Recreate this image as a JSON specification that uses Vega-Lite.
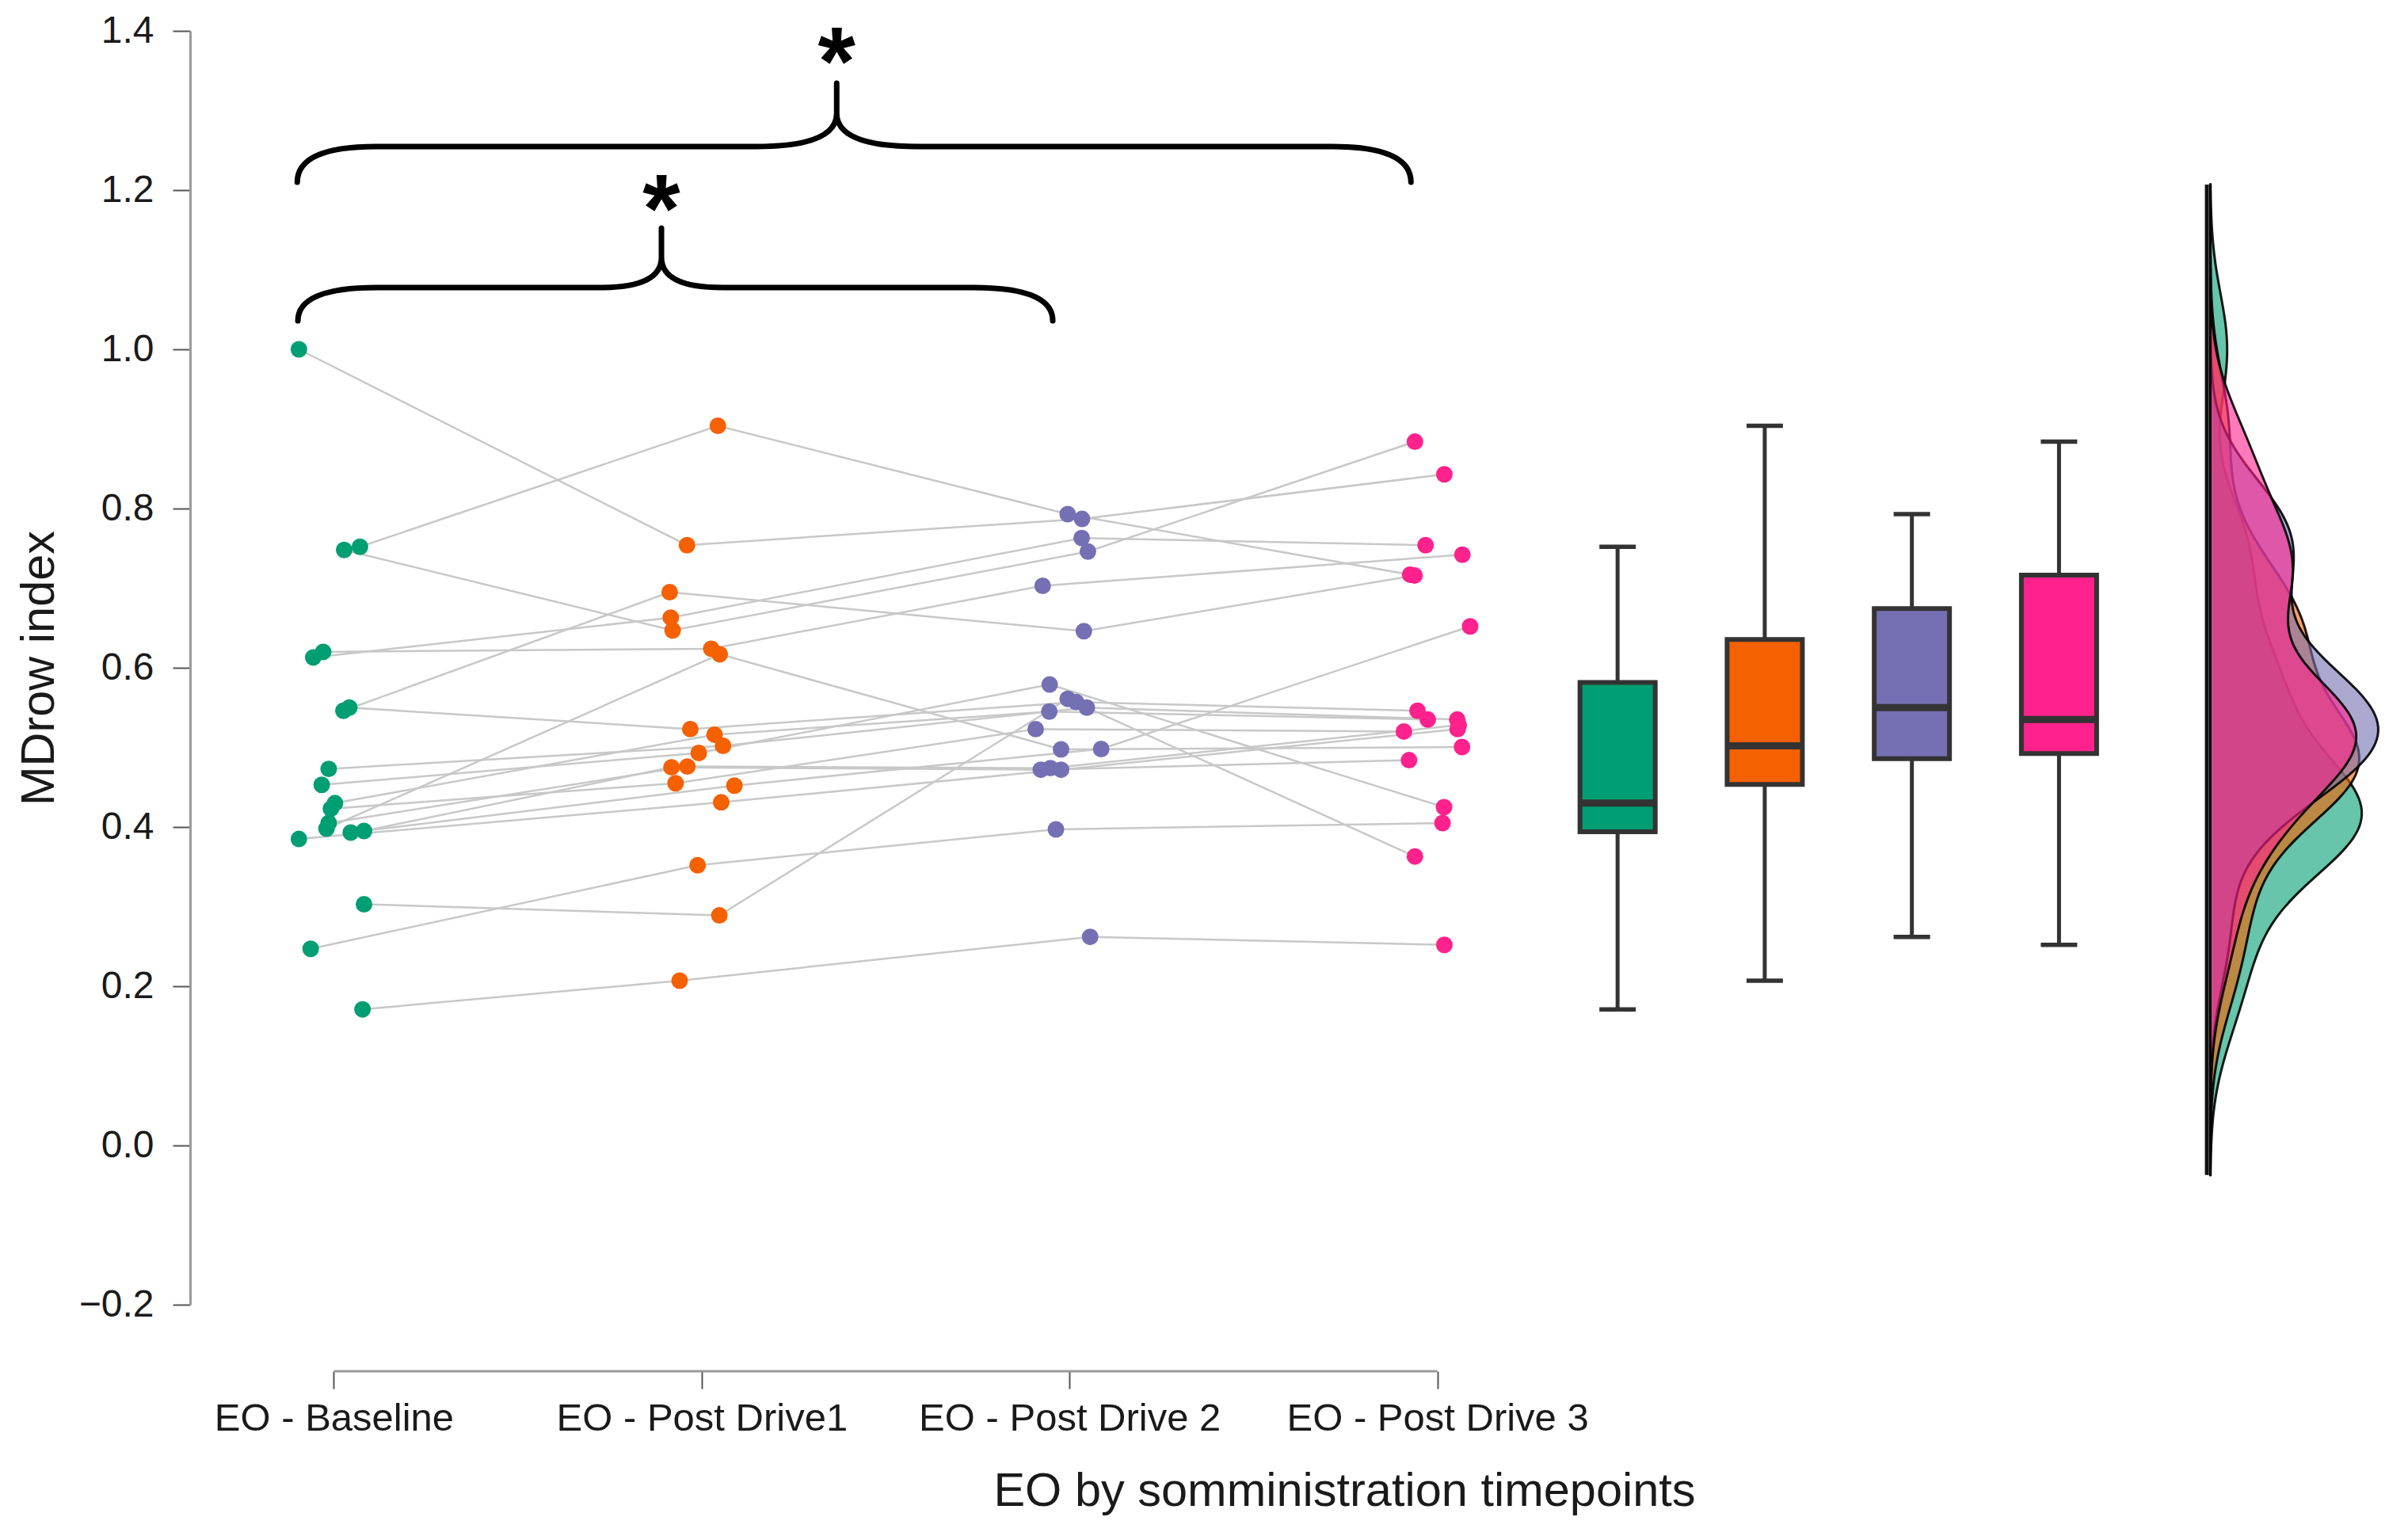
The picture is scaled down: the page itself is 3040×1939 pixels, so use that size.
{
  "$schema": "https://vega.github.io/schema/vega-lite/v6.json",
  "width": 2787,
  "height": 1608,
  "autosize": {"type": "none"},
  "padding": {"left": 240, "top": 39, "right": 13, "bottom": 292},
  "background": "white",
  "config": {
    "font": "Liberation Sans",
    "view": {"stroke": null},
    "axis": {"grid": false, "labelColor": "#1a1a1a", "titleColor": "#1a1a1a", "titleFontWeight": "normal", "labelLimit": 0},
    "axisX": {
      "offset": 84, "domain": false,
      "tickSize": 22, "tickWidth": 2, "tickColor": "#555555",
      "labelFontSize": 49, "labelPadding": 13, "labelFlush": false, "labelOverlap": false,
      "titleFontSize": 59.5, "titlePadding": 38,
      "titleX": 1457, "titleAlign": "center", "titleAnchor": "start"
    },
    "axisY": {
      "titleFontSize": 59.5, "titlePadding": 20,
      "labelFontSize": 48, "labelPadding": 24,
      "tickSize": 22, "tickWidth": 2, "tickColor": "#555555",
      "domainColor": "#9a9a9a", "domainWidth": 3
    }
  },
  "datasets": {
    "subjects": [
      {"subject": 1, "timepoint": "EO - Baseline", "value": 1.0, "pos": 0.905},
      {"subject": 1, "timepoint": "EO - Post Drive1", "value": 0.754, "pos": 1.96},
      {"subject": 1, "timepoint": "EO - Post Drive 2", "value": 0.787, "pos": 3.034},
      {"subject": 1, "timepoint": "EO - Post Drive 3", "value": 0.843, "pos": 4.019},
      {"subject": 2, "timepoint": "EO - Baseline", "value": 0.752, "pos": 1.071},
      {"subject": 2, "timepoint": "EO - Post Drive1", "value": 0.904, "pos": 2.044},
      {"subject": 2, "timepoint": "EO - Post Drive 2", "value": 0.793, "pos": 2.995},
      {"subject": 2, "timepoint": "EO - Post Drive 3", "value": 0.717, "pos": 3.926},
      {"subject": 3, "timepoint": "EO - Baseline", "value": 0.748, "pos": 1.028},
      {"subject": 3, "timepoint": "EO - Post Drive1", "value": 0.647, "pos": 1.921},
      {"subject": 3, "timepoint": "EO - Post Drive 2", "value": 0.746, "pos": 3.05},
      {"subject": 3, "timepoint": "EO - Post Drive 3", "value": 0.884, "pos": 3.939},
      {"subject": 4, "timepoint": "EO - Baseline", "value": 0.62, "pos": 0.971},
      {"subject": 4, "timepoint": "EO - Post Drive1", "value": 0.624, "pos": 2.026},
      {"subject": 4, "timepoint": "EO - Post Drive 2", "value": 0.703, "pos": 2.927},
      {"subject": 4, "timepoint": "EO - Post Drive 3", "value": 0.742, "pos": 4.068},
      {"subject": 5, "timepoint": "EO - Baseline", "value": 0.613, "pos": 0.944},
      {"subject": 5, "timepoint": "EO - Post Drive1", "value": 0.663, "pos": 1.916},
      {"subject": 5, "timepoint": "EO - Post Drive 2", "value": 0.763, "pos": 3.033},
      {"subject": 5, "timepoint": "EO - Post Drive 3", "value": 0.754, "pos": 3.968},
      {"subject": 6, "timepoint": "EO - Baseline", "value": 0.546, "pos": 1.026},
      {"subject": 6, "timepoint": "EO - Post Drive1", "value": 0.695, "pos": 1.913},
      {"subject": 6, "timepoint": "EO - Post Drive 2", "value": 0.646, "pos": 3.039},
      {"subject": 6, "timepoint": "EO - Post Drive 3", "value": 0.716, "pos": 3.938},
      {"subject": 7, "timepoint": "EO - Baseline", "value": 0.55, "pos": 1.042},
      {"subject": 7, "timepoint": "EO - Post Drive1", "value": 0.523, "pos": 1.969},
      {"subject": 7, "timepoint": "EO - Post Drive 2", "value": 0.557, "pos": 3.018},
      {"subject": 7, "timepoint": "EO - Post Drive 3", "value": 0.546, "pos": 3.946},
      {"subject": 8, "timepoint": "EO - Baseline", "value": 0.398, "pos": 0.98},
      {"subject": 8, "timepoint": "EO - Post Drive1", "value": 0.617, "pos": 2.049},
      {"subject": 8, "timepoint": "EO - Post Drive 2", "value": 0.4975, "pos": 2.977},
      {"subject": 8, "timepoint": "EO - Post Drive 3", "value": 0.5005, "pos": 4.067},
      {"subject": 9, "timepoint": "EO - Baseline", "value": 0.303, "pos": 1.082},
      {"subject": 9, "timepoint": "EO - Post Drive1", "value": 0.289, "pos": 2.048},
      {"subject": 9, "timepoint": "EO - Post Drive 2", "value": 0.561, "pos": 2.995},
      {"subject": 9, "timepoint": "EO - Post Drive 3", "value": 0.363, "pos": 3.939},
      {"subject": 10, "timepoint": "EO - Baseline", "value": 0.247, "pos": 0.937},
      {"subject": 10, "timepoint": "EO - Post Drive1", "value": 0.352, "pos": 1.989},
      {"subject": 10, "timepoint": "EO - Post Drive 2", "value": 0.397, "pos": 2.963},
      {"subject": 10, "timepoint": "EO - Post Drive 3", "value": 0.405, "pos": 4.014},
      {"subject": 11, "timepoint": "EO - Baseline", "value": 0.171, "pos": 1.078},
      {"subject": 11, "timepoint": "EO - Post Drive1", "value": 0.207, "pos": 1.94},
      {"subject": 11, "timepoint": "EO - Post Drive 2", "value": 0.262, "pos": 3.056},
      {"subject": 11, "timepoint": "EO - Post Drive 3", "value": 0.252, "pos": 4.019},
      {"subject": 12, "timepoint": "EO - Baseline", "value": 0.473, "pos": 0.986},
      {"subject": 12, "timepoint": "EO - Post Drive1", "value": 0.502, "pos": 2.058},
      {"subject": 12, "timepoint": "EO - Post Drive 2", "value": 0.55, "pos": 3.047},
      {"subject": 12, "timepoint": "EO - Post Drive 3", "value": 0.535, "pos": 4.054},
      {"subject": 13, "timepoint": "EO - Baseline", "value": 0.453, "pos": 0.967},
      {"subject": 13, "timepoint": "EO - Post Drive1", "value": 0.493, "pos": 1.992},
      {"subject": 13, "timepoint": "EO - Post Drive 2", "value": 0.579, "pos": 2.946},
      {"subject": 13, "timepoint": "EO - Post Drive 3", "value": 0.425, "pos": 4.018},
      {"subject": 14, "timepoint": "EO - Baseline", "value": 0.43, "pos": 1.003},
      {"subject": 14, "timepoint": "EO - Post Drive1", "value": 0.516, "pos": 2.035},
      {"subject": 14, "timepoint": "EO - Post Drive 2", "value": 0.545, "pos": 2.945},
      {"subject": 14, "timepoint": "EO - Post Drive 3", "value": 0.535, "pos": 3.974},
      {"subject": 15, "timepoint": "EO - Baseline", "value": 0.423, "pos": 0.992},
      {"subject": 15, "timepoint": "EO - Post Drive1", "value": 0.455, "pos": 1.929},
      {"subject": 15, "timepoint": "EO - Post Drive 2", "value": 0.523, "pos": 2.908},
      {"subject": 15, "timepoint": "EO - Post Drive 3", "value": 0.52, "pos": 3.909},
      {"subject": 16, "timepoint": "EO - Baseline", "value": 0.405, "pos": 0.986},
      {"subject": 16, "timepoint": "EO - Post Drive1", "value": 0.476, "pos": 1.961},
      {"subject": 16, "timepoint": "EO - Post Drive 2", "value": 0.474, "pos": 2.948},
      {"subject": 16, "timepoint": "EO - Post Drive 3", "value": 0.528, "pos": 4.058},
      {"subject": 17, "timepoint": "EO - Baseline", "value": 0.395, "pos": 1.082},
      {"subject": 17, "timepoint": "EO - Post Drive1", "value": 0.475, "pos": 1.918},
      {"subject": 17, "timepoint": "EO - Post Drive 2", "value": 0.472, "pos": 2.922},
      {"subject": 17, "timepoint": "EO - Post Drive 3", "value": 0.484, "pos": 3.923},
      {"subject": 18, "timepoint": "EO - Baseline", "value": 0.393, "pos": 1.046},
      {"subject": 18, "timepoint": "EO - Post Drive1", "value": 0.452, "pos": 2.089},
      {"subject": 18, "timepoint": "EO - Post Drive 2", "value": 0.498, "pos": 3.086},
      {"subject": 18, "timepoint": "EO - Post Drive 3", "value": 0.652, "pos": 4.089},
      {"subject": 19, "timepoint": "EO - Baseline", "value": 0.385, "pos": 0.905},
      {"subject": 19, "timepoint": "EO - Post Drive1", "value": 0.431, "pos": 2.053},
      {"subject": 19, "timepoint": "EO - Post Drive 2", "value": 0.472, "pos": 2.977},
      {"subject": 19, "timepoint": "EO - Post Drive 3", "value": 0.523, "pos": 4.055}
    ],
    "slots": [
      {"timepoint": "EO - Baseline", "boxAt": 4.49},
      {"timepoint": "EO - Post Drive1", "boxAt": 4.89},
      {"timepoint": "EO - Post Drive 2", "boxAt": 5.29},
      {"timepoint": "EO - Post Drive 3", "boxAt": 5.69}
    ]
  },
  "layer": [
    {
      "layer": [
        {
          "data": {"name": "subjects"},
          "mark": {"type": "line", "color": "#c8c8c8", "strokeWidth": 2.5},
          "encoding": {
            "x": {
              "field": "pos", "type": "quantitative", "title": "EO by somministration timepoints",
              "scale": {"domain": [0.62, 6.6], "nice": false, "zero": false},
              "axis": {
                "values": [1, 2, 3, 4],
                "labelExpr": "datum.value == 1 ? 'EO - Baseline' : datum.value == 2 ? 'EO - Post Drive1' : datum.value == 3 ? 'EO - Post Drive 2' : 'EO - Post Drive 3'"
              }
            },
            "y": {
              "field": "value", "type": "quantitative", "title": "MDrow index",
              "scale": {"domain": [-0.2, 1.4], "nice": false, "zero": false},
              "axis": {"values": [-0.2, 0, 0.2, 0.4, 0.6, 0.8, 1.0, 1.2, 1.4], "format": ".1f"}
            },
            "detail": {"field": "subject"},
            "order": {"field": "pos"}
          }
        },
        {
          "data": {"name": "subjects"},
          "mark": {"type": "circle", "size": 440, "opacity": 1},
          "encoding": {
            "x": {"field": "pos", "type": "quantitative", "title": "EO by somministration timepoints", "scale": {"domain": [0.62, 6.6], "nice": false, "zero": false}},
            "y": {"field": "value", "type": "quantitative", "title": "MDrow index", "scale": {"domain": [-0.2, 1.4], "nice": false, "zero": false}},
            "color": {
              "field": "timepoint", "type": "nominal",
              "scale": {"domain": ["EO - Baseline", "EO - Post Drive1", "EO - Post Drive 2", "EO - Post Drive 3"], "range": ["#009e73", "#f56000", "#7570b3", "#ff218c"]},
              "legend": null
            }
          }
        },
        {
          "data": {"name": "subjects"},
          "transform": [
            {
              "joinaggregate": [
                {"op": "q1", "field": "value", "as": "q1"},
                {"op": "q3", "field": "value", "as": "q3"},
                {"op": "median", "field": "value", "as": "med"}
              ],
              "groupby": ["timepoint"]
            },
            {"filter": "datum.value <= datum.q3 + 1.5 * (datum.q3 - datum.q1) && datum.value >= datum.q1 - 1.5 * (datum.q3 - datum.q1)"},
            {
              "aggregate": [
                {"op": "min", "field": "value", "as": "lo"},
                {"op": "max", "field": "value", "as": "hi"}
              ],
              "groupby": ["timepoint", "q1", "q3", "med"]
            },
            {"lookup": "timepoint", "from": {"data": {"name": "slots"}, "key": "timepoint", "fields": ["boxAt"]}}
          ],
          "encoding": {
            "x": {"field": "boxAt", "type": "quantitative", "title": "EO by somministration timepoints", "scale": {"domain": [0.62, 6.6], "nice": false, "zero": false}}
          },
          "layer": [
            {
              "mark": {"type": "rule", "color": "#333333", "strokeWidth": 5},
              "encoding": {
                "y": {"field": "lo", "type": "quantitative", "title": "MDrow index", "scale": {"domain": [-0.2, 1.4], "nice": false, "zero": false}},
                "y2": {"field": "hi"}
              }
            },
            {
              "mark": {"type": "bar", "size": 95, "stroke": "#333333", "strokeWidth": 6, "opacity": 1},
              "encoding": {
                "y": {"field": "q1", "type": "quantitative", "title": "MDrow index", "scale": {"domain": [-0.2, 1.4], "nice": false, "zero": false}},
                "y2": {"field": "q3"},
                "color": {"field": "timepoint", "type": "nominal", "legend": null}
              }
            },
            {
              "mark": {"type": "tick", "orient": "horizontal", "size": 95, "thickness": 9, "color": "#333333", "opacity": 1},
              "encoding": {
                "y": {"field": "med", "type": "quantitative", "title": "MDrow index", "scale": {"domain": [-0.2, 1.4], "nice": false, "zero": false}}
              }
            },
            {
              "mark": {"type": "tick", "orient": "horizontal", "size": 46, "thickness": 5.5, "color": "#333333", "opacity": 1},
              "encoding": {
                "y": {"field": "lo", "type": "quantitative", "title": "MDrow index", "scale": {"domain": [-0.2, 1.4], "nice": false, "zero": false}}
              }
            },
            {
              "mark": {"type": "tick", "orient": "horizontal", "size": 46, "thickness": 5.5, "color": "#333333", "opacity": 1},
              "encoding": {
                "y": {"field": "hi", "type": "quantitative", "title": "MDrow index", "scale": {"domain": [-0.2, 1.4], "nice": false, "zero": false}}
              }
            }
          ]
        },
        {
          "data": {"values": [{}]},
          "mark": {"type": "rule", "color": "#9a9a9a", "strokeWidth": 3},
          "encoding": {
            "x": {"datum": 1, "type": "quantitative", "title": "EO by somministration timepoints", "scale": {"domain": [0.62, 6.6], "nice": false, "zero": false}},
            "x2": {"datum": 4},
            "y": {"datum": -0.2836, "type": "quantitative", "title": "MDrow index", "scale": {"domain": [-0.2, 1.4], "nice": false, "zero": false}}
          }
        },
        {
          "data": {"values": [{}]},
          "mark": {"type": "rule", "color": "#111111", "strokeWidth": 5},
          "encoding": {
            "x": {"datum": 6.092, "type": "quantitative", "title": "EO by somministration timepoints", "scale": {"domain": [0.62, 6.6], "nice": false, "zero": false}},
            "y": {"datum": -0.037, "type": "quantitative", "title": "MDrow index", "scale": {"domain": [-0.2, 1.4], "nice": false, "zero": false}},
            "y2": {"datum": 1.207}
          }
        },
        {
          "data": {"values": [{}]},
          "mark": {
            "type": "point", "filled": false, "stroke": "#000000", "strokeWidth": 7, "opacity": 1, "strokeCap": "round",
            "size": 1976836,
            "shape": "M -0.9687 0.1238 Q -0.9687 0.0597 -0.8265 0.0597 L -0.1437 0.0597 Q 0 0.0597 0 0 L 0 -0.0541 M 0 0 Q 0 0.0597 0.1451 0.0597 L 0.8891 0.0597 Q 1.0313 0.0597 1.0313 0.1238"
          },
          "encoding": {
            "x": {"datum": 2.367, "type": "quantitative", "title": "EO by somministration timepoints", "scale": {"domain": [0.62, 6.6], "nice": false, "zero": false}},
            "y": {"datum": 1.2965, "type": "quantitative", "title": "MDrow index", "scale": {"domain": [-0.2, 1.4], "nice": false, "zero": false}}
          }
        },
        {
          "data": {"values": [{}]},
          "mark": {
            "type": "point", "filled": false, "stroke": "#000000", "strokeWidth": 7, "opacity": 1, "strokeCap": "round",
            "size": 1000000,
            "shape": "M -0.918 0.16 Q -0.918 0.076 -0.718 0.076 L -0.154 0.076 Q 0 0.076 0 0 L 0 -0.074 M 0 0 Q 0 0.076 0.154 0.076 L 0.788 0.076 Q 0.988 0.076 0.988 0.16"
          },
          "encoding": {
            "x": {"datum": 1.8906, "type": "quantitative", "title": "EO by somministration timepoints", "scale": {"domain": [0.62, 6.6], "nice": false, "zero": false}},
            "y": {"datum": 1.1154, "type": "quantitative", "title": "MDrow index", "scale": {"domain": [-0.2, 1.4], "nice": false, "zero": false}}
          }
        },
        {
          "data": {"values": [{"mark": "*"}]},
          "mark": {"type": "text", "font": "Liberation Sans", "fontWeight": "bold", "fontSize": 122, "baseline": "alphabetic", "align": "center", "color": "#000000"},
          "encoding": {
            "text": {"field": "mark"},
            "x": {"datum": 2.367, "type": "quantitative", "title": "EO by somministration timepoints", "scale": {"domain": [0.62, 6.6], "nice": false, "zero": false}},
            "y": {"datum": 1.3204, "type": "quantitative", "title": "MDrow index", "scale": {"domain": [-0.2, 1.4], "nice": false, "zero": false}}
          }
        },
        {
          "data": {"values": [{"mark": "*"}]},
          "mark": {"type": "text", "font": "Liberation Sans", "fontWeight": "bold", "fontSize": 122, "baseline": "alphabetic", "align": "center", "color": "#000000"},
          "encoding": {
            "text": {"field": "mark"},
            "x": {"datum": 1.8906, "type": "quantitative", "title": "EO by somministration timepoints", "scale": {"domain": [0.62, 6.6], "nice": false, "zero": false}},
            "y": {"datum": 1.1353, "type": "quantitative", "title": "MDrow index", "scale": {"domain": [-0.2, 1.4], "nice": false, "zero": false}}
          }
        }
      ]
    },
    {
      "data": {"name": "subjects"},
      "transform": [
        {"density": "value", "groupby": ["timepoint"], "bandwidth": 0.07, "extent": [-0.037, 1.207], "steps": 250}
      ],
      "mark": {"type": "area", "orient": "horizontal", "fillOpacity": 0.6, "stroke": "#000000", "strokeWidth": 3, "strokeOpacity": 0.9},
      "encoding": {
        "y": {"field": "value", "type": "quantitative", "title": "MDrow index", "scale": {"domain": [-0.2, 1.4], "nice": false, "zero": false}},
        "x": {"field": "density", "type": "quantitative", "scale": {"domain": [-36.12, 3.35], "nice": false, "zero": false}, "axis": null},
        "x2": {"datum": 0},
        "color": {"field": "timepoint", "type": "nominal", "legend": null}
      }
    }
  ],
  "resolve": {"scale": {"x": "independent"}}
}
